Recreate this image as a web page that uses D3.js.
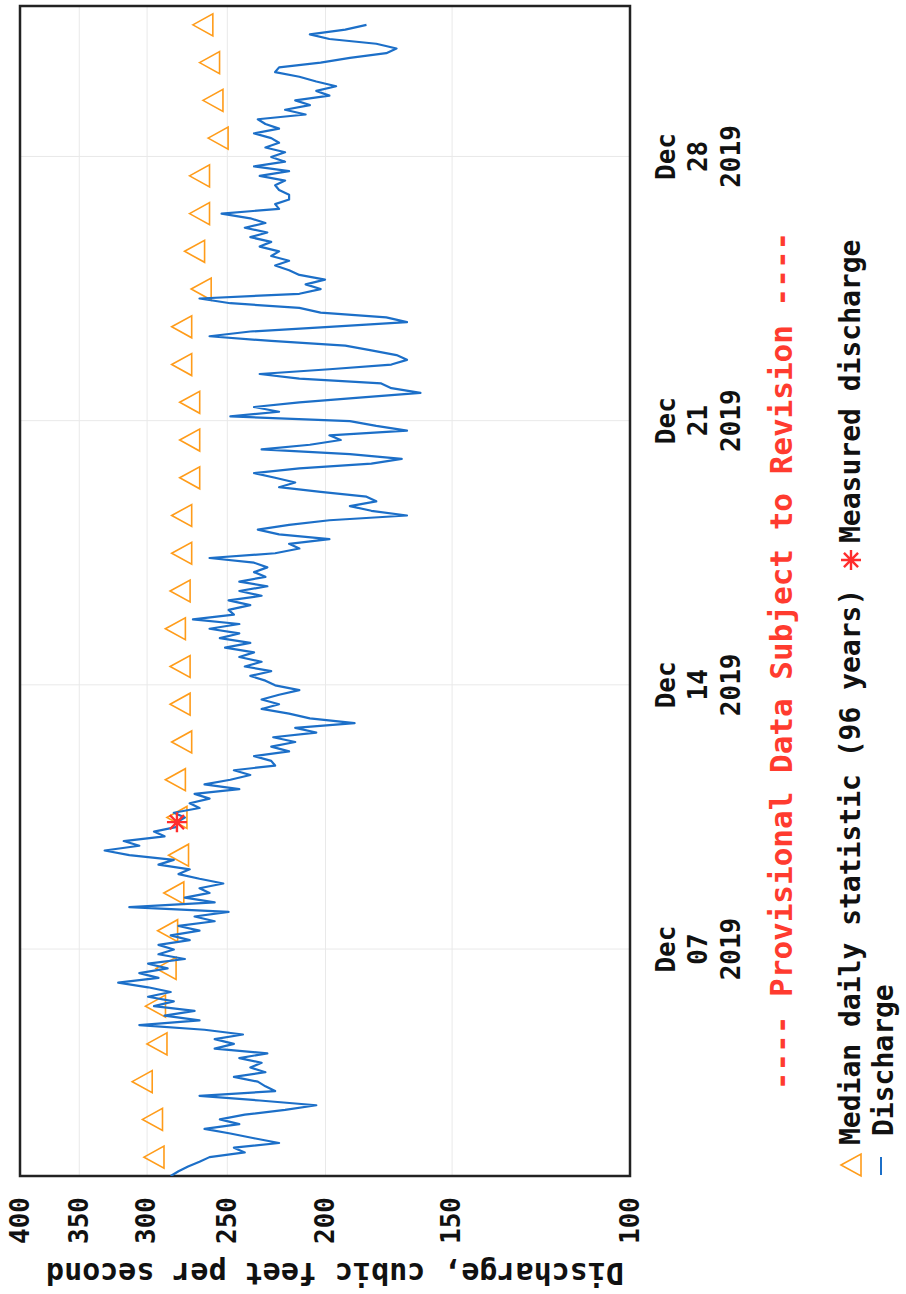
<!DOCTYPE html>
<html>
<head>
<meta charset="utf-8">
<script src="https://cdn.jsdelivr.net/npm/d3@7"></script>
<style>
  body { margin: 0; background: #fff; }
  svg { display: block; }
  text { font-family: "DejaVu Sans Mono", "Liberation Mono", monospace; font-weight: bold; }
</style>
</head>
<body>
<div id="chart"></div>
<script>
// ---- data ----
const days = [
  "2019-12-01","2019-12-02","2019-12-03","2019-12-04","2019-12-05","2019-12-06","2019-12-07",
  "2019-12-08","2019-12-09","2019-12-10","2019-12-11","2019-12-12","2019-12-13","2019-12-14",
  "2019-12-15","2019-12-16","2019-12-17","2019-12-18","2019-12-19","2019-12-20","2019-12-21",
  "2019-12-22","2019-12-23","2019-12-24","2019-12-25","2019-12-26","2019-12-27","2019-12-28",
  "2019-12-29","2019-12-30","2019-12-31"
]

// discharge, one row per day, readings every 3 hours (00, 03, ... 21)
const discharge = [
  [284, 279, 273, 266, 260, 240, 246, 222],
  [235, 248, 263, 243, 254, 240, 219, 204],
  [232, 266, 224, 229, 233, 246, 229, 237],
  [231, 243, 228, 257, 246, 257, 241, 263],
  [305, 266, 288, 269, 295, 282, 299, 284],
  [299, 320, 292, 305, 286, 299, 275, 292],
  [282, 292, 272, 284, 266, 279, 257, 269],
  [249, 312, 257, 275, 260, 266, 252, 266],
  [279, 272, 292, 282, 312, 330, 305, 316],
  [288, 295, 280, 280, 275, 282, 266, 272],
  [260, 269, 243, 263, 248, 237, 246, 224],
  [226, 235, 217, 226, 214, 225, 204, 214],
  [187, 207, 217, 231, 222, 231, 222, 212],
  [224, 229, 237, 226, 240, 231, 243, 235],
  [251, 237, 254, 243, 260, 243, 270, 246],
  [249, 237, 249, 231, 243, 228, 243, 229],
  [235, 228, 235, 260, 224, 212, 217, 198],
  [222, 233, 217, 198, 166, 180, 189, 178],
  [182, 202, 222, 214, 224, 235, 212, 180],
  [168, 189, 231, 207, 193, 198, 166, 178],
  [189, 248, 222, 235, 212, 185, 161, 172],
  [176, 212, 232, 198, 172, 166, 170, 180],
  [191, 226, 260, 237, 198, 166, 174, 202],
  [212, 248, 266, 212, 202, 209, 200, 212],
  [217, 224, 217, 226, 222, 232, 226, 237],
  [228, 240, 229, 237, 253, 222, 224, 217],
  [217, 222, 224, 219, 232, 217, 235, 219],
  [226, 219, 229, 222, 226, 235, 222, 229],
  [233, 209, 219, 207, 214, 198, 204, 195],
  [204, 212, 224, 222, 202, 189, 174, 170],
  [178, 198, 207, 191, 182]
]

// median daily statistic (96 years), one per day
const medianValues = [
  295, 296, 303, 293, 294, 287, 286, 282, 279, 280, 281, 277, 278, 278, 281, 278,
  277, 277, 272, 272, 272, 277, 277, 265, 269, 266, 266, 255, 258, 260, 264
]

const measuredTimes = ["2019-12-10T09:00"]
const measuredValues = [280]

const yTicks = [100, 150, 200, 250, 300, 350, 400]
const dateTicks = ["2019-12-07", "2019-12-14", "2019-12-21", "2019-12-28"]
const timeRange = ["2019-12-01T00:00", "2020-01-01T00:00"]

// ---- layout: the page is portrait, the chart is drawn landscape and turned ----
const pageW = 906, pageH = 1294
const margin = { top: 20, right: 6, bottom: 276, left: 118 }
const width = pageH - margin.left - margin.right
const height = pageW - margin.top - margin.bottom

const parseDay = d3.timeParse("%Y-%m-%d")
const parseTime = d3.timeParse("%Y-%m-%dT%H:%M")

const svg = d3.select("#chart").append("svg")
    .attr("width", pageW)
    .attr("height", pageH)

// rotate the whole landscape chart a quarter turn counter-clockwise
const chart = svg.append("g")
    .attr("transform", "translate(0," + pageH + ") rotate(-90)")

const g = chart.append("g")
    .attr("transform", "translate(" + margin.left + "," + margin.top + ")")

// scales
const x = d3.scaleTime()
    .domain(timeRange.map(parseTime))
    .range([0, width])

const y = d3.scaleLog()
    .domain([100, 400])
    .range([height, 0])

// series
const points = discharge.flatMap((row, i) =>
    row.map((v, j) => ({ t: d3.timeHour.offset(parseDay(days[i]), j * 3), v: v })))

const medians = days.map((d, i) => ({ t: d3.timeHour.offset(parseDay(d), 12), v: medianValues[i] }))

const measured = measuredTimes.map((d, i) => ({ t: parseTime(d), v: measuredValues[i] }))

// y axis with light grid
g.append("g")
    .attr("class", "y-axis")
    .call(d3.axisLeft(y)
        .tickValues(yTicks)
        .tickSize(-width)
        .tickPadding(21)
        .tickFormat(d3.format("d")))
    .attr("font-size", 26)
    .attr("font-family", null)
    .call(a => a.select(".domain").remove())
    .call(a => a.selectAll(".tick line").attr("stroke", "#e9e9e9"))
    .call(a => a.selectAll(".tick text").attr("fill", "#111"))

// x axis: three line date labels
const fmtMon = d3.timeFormat("%b"), fmtDay = d3.timeFormat("%d"), fmtYear = d3.timeFormat("%Y")

g.append("g")
    .attr("class", "x-axis")
    .attr("transform", "translate(0," + height + ")")
    .call(d3.axisBottom(x)
        .tickValues(dateTicks.map(parseDay))
        .tickSize(-height)
        .tickFormat(""))
    .attr("font-size", 26)
    .attr("font-family", null)
    .call(a => a.select(".domain").remove())
    .call(a => a.selectAll(".tick line").attr("stroke", "#e9e9e9"))
    .call(a => a.selectAll(".tick text")
        .attr("y", null)
        .attr("dy", null)
        .attr("fill", "#111")
        .each(function(d) {
            d3.select(this).selectAll("tspan")
                .data([fmtMon(d), fmtDay(d), fmtYear(d)])
                .join("tspan")
                .attr("x", 0)
                .attr("y", (l, i) => 44.5 + i * 32.5)
                .text(l => l)
        }))

// plot frame
g.append("rect")
    .attr("width", width)
    .attr("height", height)
    .attr("fill", "none")
    .attr("stroke", "#222")
    .attr("stroke-width", 2.5)

g.append("clipPath")
    .attr("id", "plot-clip")
    .append("rect")
    .attr("width", width)
    .attr("height", height)

const triangle = "M0,-10L11,10L-11,10Z"

function asterisk(r) {
    let p = ""
    for (let k = 0; k < 4; k++) {
        const a = k * Math.PI / 4
        p += "M" + (-r * Math.cos(a)) + "," + (-r * Math.sin(a)) + "L" + (r * Math.cos(a)) + "," + (r * Math.sin(a))
    }
    return p
}

// median daily statistic
g.selectAll(".median")
    .data(medians)
    .enter()
    .append("path")
    .attr("class", "median")
    .attr("d", triangle)
    .attr("transform", d => "translate(" + x(d.t) + "," + y(d.v) + ")")
    .attr("fill", "none")
    .attr("stroke", "#ff9c1a")
    .attr("stroke-width", 1.6)

// discharge line
g.append("path")
    .datum(points)
    .attr("clip-path", "url(#plot-clip)")
    .attr("fill", "none")
    .attr("stroke", "#1c6fc8")
    .attr("stroke-width", 2.2)
    .attr("stroke-linejoin", "round")
    .attr("d", d3.line().x(d => x(d.t)).y(d => y(d.v)))

// measured discharge
g.selectAll(".measured")
    .data(measured)
    .enter()
    .append("path")
    .attr("class", "measured")
    .attr("d", asterisk(10))
    .attr("transform", d => "translate(" + x(d.t) + "," + y(d.v) + ")")
    .attr("stroke", "#ff2d2d")
    .attr("stroke-width", 2.4)

// axis title
chart.append("text")
    .attr("transform", "translate(31," + (margin.top + height / 2 + 10) + ") rotate(-90)")
    .attr("text-anchor", "middle")
    .attr("font-size", 30)
    .attr("fill", "#111")
    .text("Discharge, cubic feet per second")

// legend
chart.append("text")
    .attr("x", 633)
    .attr("y", 792)
    .attr("text-anchor", "middle")
    .attr("font-size", 31)
    .attr("fill", "#ff3b2f")
    .text("---- Provisional Data Subject to Revision ----")

chart.append("path")
    .attr("d", triangle)
    .attr("transform", "translate(129,851)")
    .attr("fill", "none")
    .attr("stroke", "#ff9c1a")
    .attr("stroke-width", 1.6)

chart.append("text")
    .attr("x", 149)
    .attr("y", 860)
    .attr("font-size", 28)
    .attr("fill", "#111")
    .text("Median daily statistic (96 years)")

chart.append("path")
    .attr("d", asterisk(10))
    .attr("transform", "translate(734,851)")
    .attr("stroke", "#ff2d2d")
    .attr("stroke-width", 2.4)

chart.append("text")
    .attr("x", 751)
    .attr("y", 860)
    .attr("font-size", 28)
    .attr("fill", "#111")
    .text("Measured discharge")

chart.append("line")
    .attr("x1", 119)
    .attr("x2", 137)
    .attr("y1", 881)
    .attr("y2", 881)
    .attr("stroke", "#1c6fc8")
    .attr("stroke-width", 2)

chart.append("text")
    .attr("x", 158)
    .attr("y", 893)
    .attr("font-size", 28)
    .attr("fill", "#111")
    .text("Discharge")
</script>
</body>
</html>
